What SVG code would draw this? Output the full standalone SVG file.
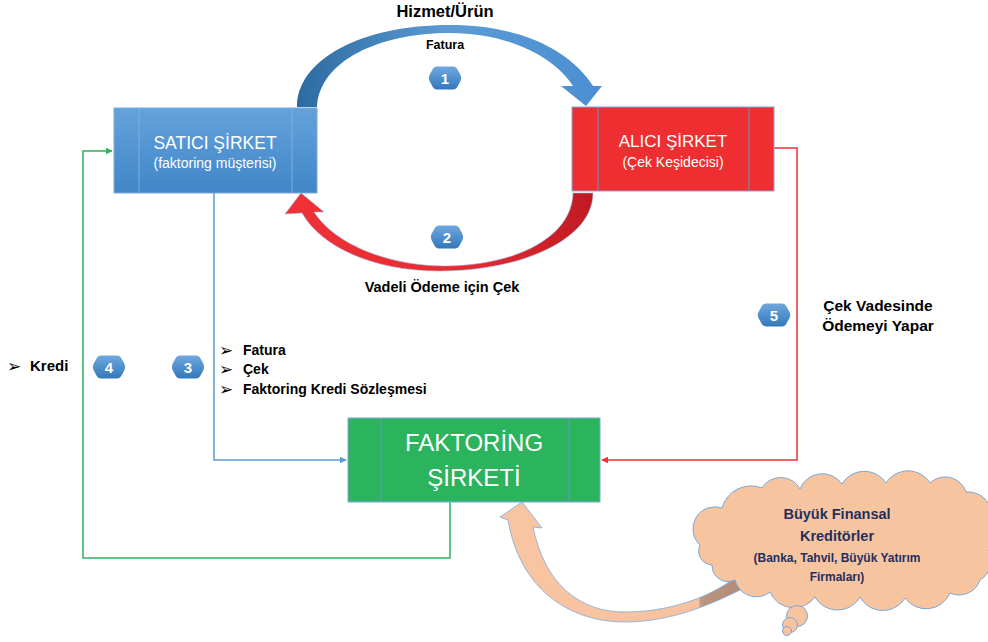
<svg xmlns="http://www.w3.org/2000/svg" width="988" height="642" viewBox="0 0 988 642">
<style>
.lbl{font-family:"Liberation Sans",Arial,sans-serif;font-weight:bold;fill:#000}
.box{font-family:"Liberation Sans",Arial,sans-serif;fill:#fff;text-anchor:middle}
.num{font-family:"Liberation Sans",Arial,sans-serif;font-weight:bold;fill:#fff;font-size:15px;text-anchor:middle}
.bul{font-family:"DejaVu Sans",sans-serif;fill:#000}
.cl{font-family:"Liberation Sans",Arial,sans-serif;font-weight:bold;fill:#1F2F5E;text-anchor:middle}
.div{stroke-width:1}
</style>
<defs>
<linearGradient id="gBlue" x1="0" y1="0" x2="0" y2="1"><stop offset="0" stop-color="#65A2DB"/><stop offset="1" stop-color="#3F86C8"/></linearGradient>
<linearGradient id="gBadge" x1="0" y1="0" x2="0" y2="1"><stop offset="0" stop-color="#6FA8DE"/><stop offset="1" stop-color="#3378BC"/></linearGradient>
<linearGradient id="gArcB" gradientUnits="userSpaceOnUse" x1="297" y1="0" x2="602" y2="0"><stop offset="0" stop-color="#2C6AA0"/><stop offset="0.5" stop-color="#5C9BD4"/><stop offset="1" stop-color="#4A8FD2"/></linearGradient>
<linearGradient id="gArcR" gradientUnits="userSpaceOnUse" x1="285" y1="0" x2="593" y2="0"><stop offset="0" stop-color="#F03237"/><stop offset="0.6" stop-color="#E52A30"/><stop offset="1" stop-color="#BF1B24"/></linearGradient>
<linearGradient id="gOr" gradientUnits="userSpaceOnUse" x1="500" y1="0" x2="742" y2="0"><stop offset="0" stop-color="#F8C4A1"/><stop offset="0.82" stop-color="#F6C29F"/><stop offset="0.83" stop-color="#BB9680"/><stop offset="1" stop-color="#B08A74"/></linearGradient>
<path id="badge" d="M -8 -11.5 L 8 -11.5 Q 11 -11.5 12.5 -8.5 L 15.5 -3 Q 17 0 15.5 3 L 12.5 8.5 Q 11 11.5 8 11.5 L -8 11.5 Q -11 11.5 -12.5 8.5 L -15.5 3 Q -17 0 -15.5 -3 L -12.5 -8.5 Q -11 -11.5 -8 -11.5 Z" fill="url(#gBadge)"/>
<marker id="mB" viewBox="0 0 10 10" refX="9" refY="5" markerWidth="7" markerHeight="7" markerUnits="userSpaceOnUse" orient="auto"><path d="M0 0 L10 5 L0 10 Z" fill="#5B9BD5"/></marker>
<marker id="mG" viewBox="0 0 10 10" refX="9" refY="5" markerWidth="7" markerHeight="7" markerUnits="userSpaceOnUse" orient="auto"><path d="M0 0 L10 5 L0 10 Z" fill="#2EB35F"/></marker>
<marker id="mR" viewBox="0 0 10 10" refX="9" refY="5" markerWidth="7" markerHeight="7" markerUnits="userSpaceOnUse" orient="auto"><path d="M0 0 L10 5 L0 10 Z" fill="#EE3135"/></marker>
</defs>
<rect width="988" height="642" fill="#fff"/>

<g id="connectors" fill="none" stroke-width="1.5">
<polyline points="214,193 214,460 346,460" stroke="#5B9BD5" marker-end="url(#mB)"/>
<polyline points="450,502 450,558 83,558 83,151 112,151" stroke="#2EB35F" marker-end="url(#mG)"/>
<polyline points="774,148 797,148 797,460 602,460" stroke="#EE3135" marker-end="url(#mR)"/>
<path id="arc1" d="M 297 107 C 297 60, 360 25, 450 25 C 520 25, 570 50, 593 86 L 602 86 L 586 106 L 561 86 L 573 86 C 555 58, 510 33, 450 33 C 380 33, 320 60, 317 107 Z" fill="url(#gArcB)" stroke="none"/>
<path id="arc2" d="M 593 193 C 593 240, 520 271, 440 271 C 370 271, 320 245, 302 213 L 285 214 L 301 193 L 324 212 L 314 212 C 335 245, 390 266, 445 266 C 510 266, 572 240, 573 193 Z" fill="url(#gArcR)" stroke="#9DB7DC" stroke-width="0.6"/>
<path id="arc3" d="M 508 520 C 520 590, 570 622, 625 622 C 670 622, 710 605, 742 589 L 735 578 C 705 600, 665 612, 625 612 C 580 612, 545 585, 533 527 L 542 528 L 522 502 L 500 517 Z" fill="url(#gOr)" stroke="#7FA9DA" stroke-width="0.8"/>
</g>

<g id="satici">
<rect x="114" y="108" width="203" height="85" fill="url(#gBlue)" stroke="#7FAADB" stroke-width="1"/>
<line x1="139" y1="108" x2="139" y2="193" stroke="#80AEDD" class="div"/>
<line x1="292" y1="108" x2="292" y2="193" stroke="#80AEDD" class="div"/>
<text class="box" x="215" y="149" font-size="17.5">SATICI ŞİRKET</text>
<text class="box" x="215" y="168" font-size="14">(faktoring müşterisi)</text>
</g>

<g id="alici">
<rect x="572" y="107" width="202" height="84" fill="#EE2E31" stroke="#7FAADB" stroke-width="1"/>
<line x1="598" y1="107" x2="598" y2="191" stroke="#6F8FCB" class="div"/>
<line x1="749" y1="107" x2="749" y2="191" stroke="#6F8FCB" class="div"/>
<text class="box" x="673" y="147" font-size="17">ALICI ŞİRKET</text>
<text class="box" x="673" y="167" font-size="14">(Çek Keşidecisi)</text>
</g>

<g id="faktoring">
<rect x="348" y="418" width="252" height="84" fill="#2CB35E" stroke="#7FAADB" stroke-width="1"/>
<line x1="381" y1="418" x2="381" y2="502" stroke="#5E9AC8" class="div"/>
<line x1="569" y1="418" x2="569" y2="502" stroke="#5E9AC8" class="div"/>
<text class="box" x="474" y="451" font-size="24">FAKTORİNG</text>
<text class="box" x="474" y="486" font-size="24">ŞİRKETİ</text>
</g>

<g id="cloud" fill="#F7C4A0" stroke="#79A6DA" stroke-width="1">
<path d="M 700 545 A 22 22 0 0 1 722 508 A 30 30 0 0 1 762 488 A 22 22 0 0 1 800 489 A 24 24 0 0 1 842 484 A 26 26 0 0 1 886 483 A 26 26 0 0 1 930 483 A 22 22 0 0 1 966 492 A 24 24 0 0 1 992 515 A 24 24 0 0 1 988 550 A 22 22 0 0 1 980 580 A 22 22 0 0 1 950 593 A 26 26 0 0 1 905 598 A 26 26 0 0 1 860 597 A 26 26 0 0 1 815 597 A 26 26 0 0 1 770 592 A 22 22 0 0 1 735 580 A 16 16 0 0 1 712 565 A 14 14 0 0 1 700 545 Z"/>
<circle cx="797" cy="616" r="10.5"/>
<circle cx="790" cy="625" r="7.5"/>
<circle cx="787" cy="631" r="4.5"/>
<text class="cl" x="837" y="519" font-size="14.5" stroke="none">Büyük Finansal</text>
<text class="cl" x="837" y="541" font-size="14.5" stroke="none">Kreditörler</text>
<text class="cl" x="837" y="562" font-size="12" stroke="none">(Banka, Tahvil, Büyük Yatırım</text>
<text class="cl" x="837" y="581" font-size="12" stroke="none">Firmaları)</text>
</g>

<g id="badges">
<use href="#badge" x="445" y="78"/><text class="num" x="445" y="83.5">1</text>
<use href="#badge" x="447" y="237"/><text class="num" x="447" y="242.5">2</text>
<use href="#badge" x="188" y="367"/><text class="num" x="188" y="372.5">3</text>
<use href="#badge" x="109" y="367"/><text class="num" x="109" y="372.5">4</text>
<use href="#badge" x="774" y="315"/><text class="num" x="774" y="320.5">5</text>
</g>

<g id="labels">
<text class="lbl" x="445" y="17" font-size="16.5" text-anchor="middle">Hizmet/Ürün</text>
<text class="lbl" x="445" y="49" font-size="12.5" text-anchor="middle">Fatura</text>
<text class="lbl" x="442" y="292" font-size="14.5" text-anchor="middle">Vadeli Ödeme için Çek</text>
<text class="lbl" x="878" y="311" font-size="15.5" text-anchor="middle">Çek Vadesinde</text>
<text class="lbl" x="878" y="331" font-size="15.5" text-anchor="middle">Ödemeyi Yapar</text>
<text class="bul" x="219" y="356" font-size="17">➢</text>
<text class="lbl" x="243" y="355" font-size="14">Fatura</text>
<text class="bul" x="219" y="375" font-size="17">➢</text>
<text class="lbl" x="243" y="374" font-size="14">Çek</text>
<text class="bul" x="219" y="395" font-size="17">➢</text>
<text class="lbl" x="243" y="394" font-size="14">Faktoring Kredi Sözleşmesi</text>
<text class="bul" x="7" y="372" font-size="17">➢</text>
<text class="lbl" x="30" y="371" font-size="15">Kredi</text>
</g>
</svg>
